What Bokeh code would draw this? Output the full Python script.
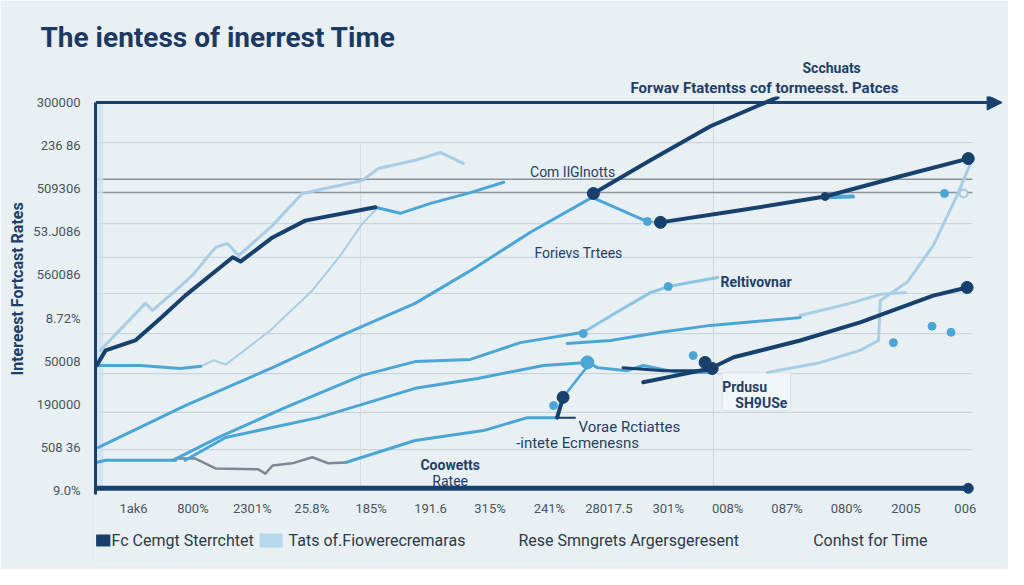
from bokeh.plotting import figure
from bokeh.models import Range1d, FixedTicker, Label, Arrow, NormalHead, Title
from bokeh.core.properties import value
from bokeh.embed import file_html
from bokeh.resources import INLINE

NAVY = "#17406d"
MID = "#4ba6d6"
LIGHT = "#a9cde4"
GREYL = "#7d8891"
BG = "#e9f0f4"
GRID = "#cbd5dc"
REF = "#8b949b"
TXT = "#1f3f68"
FONT = "Roboto"

# ---- axes / ticks ----
x_ticks = list(range(1, 16))
x_labels = ["1ak6", "800%", "2301%", "25.8%", "185%", "191.6", "315%", "241%",
            "28017.5", "301%", "008%", "087%", "080%", "2005", "006"]
x_label_level = -0.42
y_ticks = list(range(0, 10))
y_labels = ["9.0%", "508 36", "190000", "50008", "8.72%", "560086",
            "53.J086", "509306", "236 86", "300000"]
grid_levels = [0.95, 1.81, 2.71, 3.64, 4.57, 5.41, 6.19, 8.07]
ref_levels = [6.91, 7.22]
vgrid_pos = [4.82, 10.76]
x_start, x_end, grid_end = 0.36, 15.66, 15.12
y_start, y_end, top_level, axis_level = -1.694, 9.14, 9.0, -0.1
base_level, base_end = 0.05, 15.05

# ---- series ----
a_x = [0.38, 0.53, 1.03, 1.45, 1.87, 2.67, 2.80, 3.34, 3.89, 5.07]
a_y = [2.90, 3.25, 3.48, 3.99, 4.52, 5.41, 5.31, 5.87, 6.26, 6.57]
a2_x = [5.07, 5.49, 6.00, 6.67, 7.23]
a2_y = [6.57, 6.43, 6.66, 6.91, 7.15]
b_x = [8.74, 9.70, 10.71, 11.84]
b_y = [6.89, 7.66, 8.45, 9.12]
c_x = [0.41, 1.87, 3.34, 4.57, 5.74, 6.67, 7.68, 8.72, 9.65]
c_y = [1.00, 1.97, 2.85, 3.64, 4.34, 5.10, 5.99, 6.80, 6.24]
cd_x = [9.65, 9.87]
cd_y = [6.24, 6.22]
d_x = [9.87, 11.21, 12.64, 13.91, 15.05]
d_y = [6.22, 6.50, 6.82, 7.29, 7.70]
d2_x = [12.64, 13.11]
d2_y = [6.80, 6.82]
e_x = [0.44, 1.20, 1.32, 1.71, 1.99, 2.38, 2.58, 2.77, 3.34, 3.84, 4.85, 5.12, 5.74, 6.17, 6.55]
e_y = [3.25, 4.34, 4.18, 4.64, 4.99, 5.64, 5.73, 5.45, 6.15, 6.89, 7.19, 7.47, 7.66, 7.84, 7.59]
g_x = [0.37, 1.12, 1.79, 2.13]
g_y = [2.90, 2.90, 2.83, 2.88]
f_x = [2.13, 2.35, 2.55, 3.30, 4.01, 4.48, 4.85, 5.12]
f_y = [2.88, 3.02, 2.92, 3.71, 4.64, 5.45, 6.19, 6.57]
h_x = [1.66, 2.43, 3.56, 4.85, 5.74, 6.67, 7.51, 8.57]
h_y = [0.70, 1.23, 1.93, 2.67, 2.99, 3.04, 3.43, 3.67]
m_x = [8.57, 9.19, 9.70, 10.00, 10.83]
m_y = [3.67, 4.18, 4.59, 4.73, 4.94]
i_x = [1.87, 2.55, 4.11, 5.74, 6.79, 7.90, 8.64, 8.81, 9.31, 9.58, 10.15, 10.71]
i_y = [0.70, 1.23, 1.69, 2.37, 2.60, 2.90, 2.97, 2.85, 2.78, 2.90, 2.74, 2.74]
j1_x = [0.37, 0.53, 1.71]
j1_y = [0.65, 0.70, 0.70]
jg_x = [1.71, 2.04, 2.38, 3.10, 3.22, 3.34, 3.67, 4.01, 4.28, 4.57]
jg_y = [0.74, 0.74, 0.51, 0.49, 0.39, 0.58, 0.63, 0.77, 0.63, 0.65]
j2_x = [4.57, 5.74, 6.89, 7.63, 8.13]
j2_y = [0.65, 1.16, 1.39, 1.69, 1.69]
q_x = [8.13, 8.23]
q_y = [1.69, 2.16]
q2_x = [8.23, 8.69]
q2_y = [2.16, 2.97]
lead_x = [8.13, 8.43]
lead_y = [1.69, 1.69]
n_x = [8.30, 9.03, 9.87, 10.71, 12.22]
n_y = [3.41, 3.48, 3.67, 3.83, 4.01]
k_x = [9.58, 10.15, 10.71, 11.10, 12.22, 13.23, 14.46, 15.03]
k_y = [2.51, 2.67, 2.83, 3.09, 3.48, 3.90, 4.52, 4.71]
k2_x = [9.24, 9.92, 10.62]
k2_y = [2.85, 2.78, 2.78]
l_x = [11.67, 12.51, 13.23, 13.54, 13.57, 14.02, 14.46, 14.86, 15.12]
l_y = [2.74, 2.95, 3.25, 3.48, 4.41, 4.83, 5.68, 6.84, 7.70]
pl_x = [12.22, 13.06, 13.57, 13.99]
pl_y = [4.06, 4.34, 4.55, 4.59]

navy_dot_x = [8.74, 9.87, 15.05, 15.03, 8.23, 10.62, 10.74]
navy_dot_y = [6.89, 6.22, 7.70, 4.71, 2.16, 2.97, 2.83]
navy_small_x = [12.64]
navy_small_y = [6.82]
mid_dot_x = [9.65, 10.00, 8.57, 8.07, 10.42, 13.79, 14.44, 14.76, 14.65]
mid_dot_y = [6.24, 4.73, 3.64, 1.97, 3.13, 3.43, 3.81, 3.67, 6.89]
mid_big_x = [8.64]
mid_big_y = [2.97]
hollow_x = [14.97]
hollow_y = [6.89]

box_l, box_r, box_b, box_t = 10.91, 12.06, 1.86, 2.74

# ---- legend (drawn as swatches + labels) ----
legend_labels = ["Fc Cemgt Sterrchtet", "Tats of.Fiowerecremaras",
                 "Rese  Smngrets Argersgeresent", "Conhst for Time"]
legend_text_x = [0.63, 3.61, 7.48, 12.44]
legend_text_y = -1.16
swatch_left = [0.37, 3.12]
swatch_right = [0.61, 3.51]
swatch_bottom = [-1.30, -1.32]
swatch_top = [-1.02, -1.00]
swatch_color = [NAVY, "#b6d8ec"]

p = figure(width=1008, height=569, title=None, x_axis_location=None,
           x_range=Range1d(x_start, x_end), y_range=Range1d(y_start, y_end),
           output_backend="svg", toolbar_location=None,
           min_border_left=95, min_border_right=4, min_border_top=96, min_border_bottom=6)
p.outline_line_color = None
p.background_fill_color = BG
p.border_fill_color = BG
p.grid.grid_line_color = None

# titles above the frame (first added sits closest to the frame)
p.add_layout(Title(text="Forwav Ftatentss  cof tormeesst. Patces", align="left", offset=535,
                   text_font=FONT, text_font_size="15px", text_font_style="bold",
                   text_color=TXT, standoff=0), "above")
p.add_layout(Title(text="Scchuats", align="left", offset=707,
                   text_font=FONT, text_font_size="14px", text_font_style="bold",
                   text_color=TXT, standoff=2), "above")
p.add_layout(Title(text="The ientess of inerrest Time", align="left", offset=-55,
                   text_font=FONT, text_font_size="28px", text_font_style="bold",
                   text_color="#1b3a63", standoff=6), "above")
p.add_layout(Title(text="Intereest Fortcast Rates", align="left", offset=188,
                   text_font=FONT, text_font_size="16px", text_font_style="bold",
                   text_color=TXT, standoff=8), "left")

ya = p.yaxis[0]
ya.ticker = FixedTicker(ticks=y_ticks)
ya.major_label_overrides = {t: l for t, l in zip(y_ticks, y_labels)}
ya.axis_line_color = NAVY
ya.axis_line_width = 3
ya.bounds = (axis_level, top_level)
ya.major_tick_line_color = None
ya.minor_tick_line_color = None
ya.major_tick_out = 0
ya.minor_tick_out = 0
ya.major_tick_in = 0
ya.minor_tick_in = 0
ya.major_label_text_font = FONT
ya.major_label_text_font_size = "13px"
ya.major_label_text_color = "#4a5560"
ya.major_label_standoff = 15

# x tick labels placed through the x scale
p.text(x=x_ticks, y=[x_label_level] * len(x_ticks), text=x_labels,
       text_align="center", text_baseline="middle", text_font=value(FONT),
       text_font_size="13px", text_color="#4a5560")

# grid & reference lines
p.segment(x0=[x_start] * len(grid_levels), x1=[grid_end] * len(grid_levels),
          y0=grid_levels, y1=grid_levels, line_color=GRID, line_width=1.2)
p.segment(x0=vgrid_pos, x1=vgrid_pos, y0=[0, 0], y1=[8.07, top_level],
          line_color="#d3dce2", line_width=1.2)
p.segment(x0=[x_start] * 2, x1=[grid_end] * 2, y0=ref_levels, y1=ref_levels,
          line_color=REF, line_width=1.5)
# light band next to axis
p.quad(left=[x_start], right=[0.49], bottom=[0], top=[top_level],
       fill_color="#cfe2ee", fill_alpha=0.8, line_color=None)
# annotation box
p.quad(left=[box_l], right=[box_r], bottom=[box_b], top=[box_t],
       fill_color="#f3f7f9", fill_alpha=0.8, line_color="#dbe3e8")

def ln(x, y, c, w, a=1.0):
    return p.line(x, y, line_color=c, line_width=w, line_alpha=a,
                  line_join="round", line_cap="round")

ln(e_x, e_y, LIGHT, 3)
ln(f_x, f_y, LIGHT, 2)
ln(l_x, l_y, LIGHT, 3)
ln(pl_x, pl_y, LIGHT, 3)
ln(m_x, m_y, "#8cc3e2", 3)
ln(jg_x, jg_y, GREYL, 2.5)
ln(g_x, g_y, MID, 3)
ln(j1_x, j1_y, MID, 3)
ln(j2_x, j2_y, MID, 3)
ln(c_x, c_y, MID, 3)
ln(cd_x, cd_y, "#7fa8c4", 1.5)
ln(h_x, h_y, MID, 3)
ln(i_x, i_y, MID, 3)
ln(n_x, n_y, MID, 3)
ln(q2_x, q2_y, MID, 2.5)
ln(a2_x, a2_y, MID, 3)
ln(d2_x, d2_y, MID, 4)
ln(a_x, a_y, NAVY, 4)
ln(b_x, b_y, NAVY, 4)
ln(d_x, d_y, NAVY, 4)
ln(k_x, k_y, NAVY, 4)
ln(k2_x, k2_y, NAVY, 3)
ln(q_x, q_y, NAVY, 4)
ln(lead_x, lead_y, NAVY, 2)
# baseline
p.line([x_start, base_end], [base_level, base_level], line_color=NAVY, line_width=5)
p.scatter([base_end], [base_level], size=10, color=NAVY)

p.scatter(mid_dot_x, mid_dot_y, size=8, color=MID)
p.scatter(mid_big_x, mid_big_y, size=13, color=MID)
p.scatter(hollow_x, hollow_y, size=8, fill_color=BG, line_color="#9fc9e2", line_width=2)
p.scatter(navy_dot_x, navy_dot_y, size=12, color=NAVY)
p.scatter(navy_small_x, navy_small_y, size=8, color=NAVY)

p.add_layout(Arrow(end=NormalHead(size=15, fill_color=NAVY, line_color=NAVY),
                   x_start=x_start, y_start=top_level, x_end=15.62, y_end=top_level,
                   line_color=NAVY, line_width=3))

def lab(x, y, t, size="14px", align="left", style="bold", color=TXT, baseline="alphabetic"):
    p.add_layout(Label(x=x, y=y, text=t, text_font=FONT, text_font_size=size,
                       text_align=align, text_font_style=style, text_color=color,
                       text_baseline=baseline))

lab(8.39, 7.38, "Com IlGlnotts", align="center", style="normal")
lab(8.49, 5.52, "Forievs Trtees", align="center", style="normal")
lab(10.88, 4.83, "Reltivovnar")
lab(10.91, 2.41, "Prdusu")
lab(11.13, 2.04, "SH9USe")
lab(8.49, 1.48, "Vorae Rctiattes", size="15px", style="normal")
lab(7.44, 1.09, "-intete  Ecmenesns", size="15px", style="normal")
lab(6.33, 0.60, "Coowetts", align="center")
lab(6.33, 0.21, "Ratee", align="center", style="normal")

# legend
p.quad(left=swatch_left, right=swatch_right, bottom=swatch_bottom, top=swatch_top,
       fill_color=swatch_color, line_color=None)
for tx, tl in zip(legend_text_x, legend_labels):
    lab(tx, legend_text_y, tl, size="16px", style="normal", color="#2c3a46", baseline="middle")

open("out.html", "w").write(file_html(p, INLINE))
